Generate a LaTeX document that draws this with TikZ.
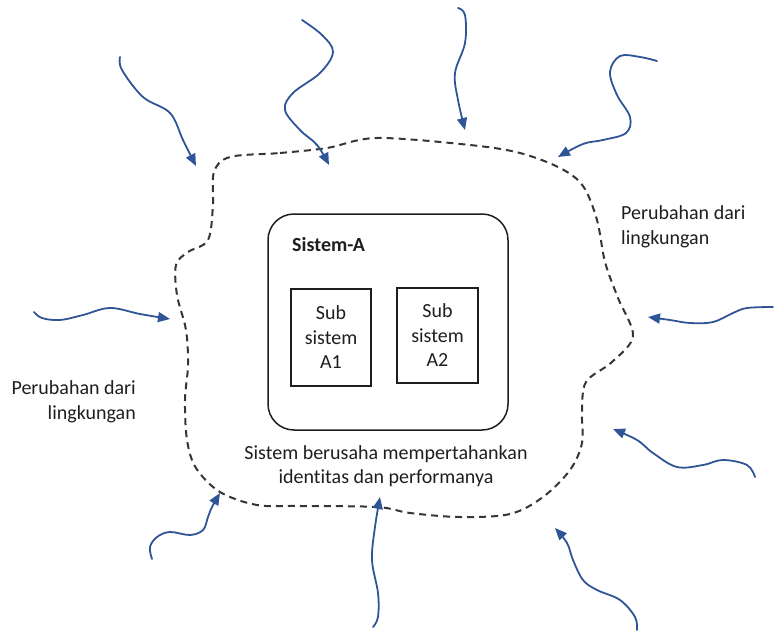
\documentclass[tikz,border=0pt]{standalone}
\usepackage{fontspec}
\setmainfont{Carlito}[Ligatures=NoCommon]
\usetikzlibrary{arrows.meta}
\definecolor{envblue}{RGB}{47,85,151}
\definecolor{ink}{RGB}{30,30,30}
\begin{document}
\begin{tikzpicture}[x=1pt,y=-1pt,
  txt/.style={font=\fontsize{20}{24.5}\selectfont, text=ink, inner sep=0pt},
  subbox/.style={draw=ink, line width=1.5pt, align=center, txt, inner sep=0pt},
  boundary/.style={draw=ink!90, line width=2pt, dash pattern=on 7pt off 5pt},
  influence/.style={draw=envblue, line width=1.8pt, line cap=round, line join=round,
    -{Triangle[length=12pt,width=10pt]}}]
\useasboundingbox (0,0) rectangle (774,634);

% system boundary (dashed blob)
\draw[boundary] plot[smooth cycle, tension=0.55] coordinates {
  (230,157) (280,153) (327,148) (377,138) (470,145) (520,153) (560,168)
  (583,186) (597,220) (605,262) (618,298) (633,336) (612,362) (586,382)
  (582,412) (582,443) (570,470) (543,497) (510,514) (460,517) (410,513)
  (377,507) (300,506) (257,505) (220,492) (196,468) (187,440) (185,400)
  (188,365) (186,330) (177,295) (176,265) (188,252) (208,240) (213,205)
  (214,172)};

% Sistem-A and its subsystems
\node[draw=ink, line width=1.5pt, rounded corners=26pt, minimum width=240pt,
      minimum height=216pt] (sysA) at (388,322) {};
\node[txt, font=\fontsize{20}{24.5}\selectfont\bfseries, anchor=west] (sysAlbl) at (292,245) {Sistem-A};
\node[subbox, minimum width=80pt, minimum height=97pt] (subA1) at (331,337.5) {Sub\\sistem\\A1};
\node[subbox, minimum width=81pt, minimum height=95pt] (subA2) at (437.5,335.5) {Sub\\sistem\\A2};

% captions
\node[txt, align=center] (goal) at (386,466) {Sistem berusaha mempertahankan\\identitas dan performanya};
\node[txt, align=left, anchor=west] (envR) at (621,227) {Perubahan dari\\lingkungan};
\node[txt, align=right, anchor=east] (envL) at (136,402) {Perubahan dari\\lingkungan};

% environmental influences pushing on the boundary
\draw[influence] plot[smooth, tension=0.6] coordinates {
  (120,57) (122,70) (143,97) (170,113) (183,140) (196,166)};
\draw[influence] plot[smooth, tension=0.6] coordinates {
  (302,20) (322,35) (333,52) (320,73) (293,93) (285,110) (300,130) (317,145) (329,165)};
\draw[influence] plot[smooth, tension=0.6] coordinates {
  (458,8) (465,15) (465,43) (455,73) (458,100) (465,130)};
\draw[influence] plot[smooth, tension=0.6] coordinates {
  (657,61) (640,57) (620,56) (610,72) (617,95) (630,117) (626,133) (603,140) (583,144) (558,157)};
\draw[influence] plot[smooth, tension=0.6] coordinates {
  (34,312) (42,318) (60,320) (83,315) (110,308) (140,314) (170,319)};
\draw[influence] plot[smooth, tension=0.6] coordinates {
  (773,307) (747,308) (733,313) (713,322) (690,323) (670,320) (648,317)};
\draw[influence] plot[smooth, tension=0.6] coordinates {
  (755,477) (747,465) (723,460) (703,465) (677,467) (653,453) (637,440) (613,429)};
\draw[influence] plot[smooth, tension=0.6] coordinates {
  (152,559) (150,547) (157,537) (170,532) (190,535) (203,530) (208,517) (212,507) (220,493)};
\draw[influence] plot[smooth, tension=0.6] coordinates {
  (373,627) (378,617) (378,593) (372,560) (375,527) (380,497)};
\draw[influence] plot[smooth, tension=0.6] coordinates {
  (637,630) (635,617) (620,600) (597,590) (583,580) (573,560) (567,543) (555,528)};
\end{tikzpicture}
\end{document}
